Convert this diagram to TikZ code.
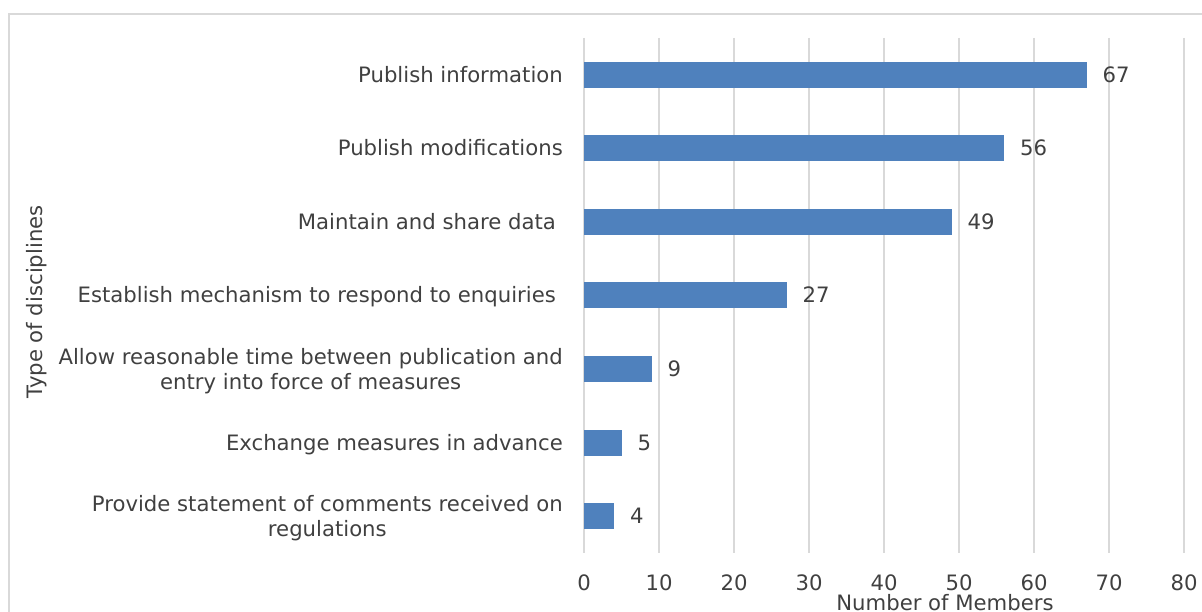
\documentclass[tikz,border=0pt]{standalone}
\usepackage{fontspec}
\setmainfont{DejaVu Sans}
\definecolor{barblue}{HTML}{4F81BD}
\definecolor{gridgray}{HTML}{D9D9D9}
\definecolor{txt}{HTML}{404040}
\begin{document}
\begin{tikzpicture}[x=1pt,y=-1pt,
  lbl/.style={text=txt,font=\fontsize{21.2}{25}\selectfont,inner sep=0pt},
  gridline/.style={draw=gridgray,line width=1.5pt},
  barfill/.style={fill=barblue}]
\useasboundingbox (0,0) rectangle (1202,612);
% chart frame
\draw[gridline] (9,640) -- (9,14) -- (1230,14);
% grid and ticks
\foreach \v in {0,10,...,80} {
  \draw[gridline] ({584+7.5*\v},38) -- ({584+7.5*\v},553);
  \node[lbl,anchor=base] (t\v) at ({584+7.5*\v},590) {\v};
}
% bars and value labels
\foreach \i/\val/\c in {1/67/74.8, 2/56/148.4, 3/49/221.9, 4/27/295.5, 5/9/369.1, 6/5/442.6, 7/4/516.2} {
  \fill[barfill] (584,{\c-13}) rectangle ({584+7.5*\val},{\c+13});
  \node[lbl,anchor=base west] (v\i) at ({584+7.5*\val+16},{\c+7.5}) {\val};
}
% category labels
\node[lbl,anchor=base east] (c1) at (563,82.3) {Publish information};
\node[lbl,anchor=base east] (c2) at (563,155.9) {Publish modifications};
\node[lbl,anchor=base east] (c3) at (556,229.4) {Maintain and share data};
\node[lbl,anchor=base east] (c4) at (556,303.0) {Establish mechanism to respond to enquiries};
\node[lbl,anchor=base east,align=center] (c5) at (563,389.1) {Allow reasonable time between publication and\\entry into force of measures};
\node[lbl,anchor=base east] (c6) at (563,450.1) {Exchange measures in advance};
\node[lbl,anchor=base east,align=center] (c7) at (563,536.2) {Provide statement of comments received on\\regulations};
% axis titles
\node[lbl,anchor=base,rotate=90] (ytitle) at (42,302) {Type of disciplines};
\node[lbl,anchor=base] (xtitle) at (945,610.5) {Number of Members};
\end{tikzpicture}
\end{document}
